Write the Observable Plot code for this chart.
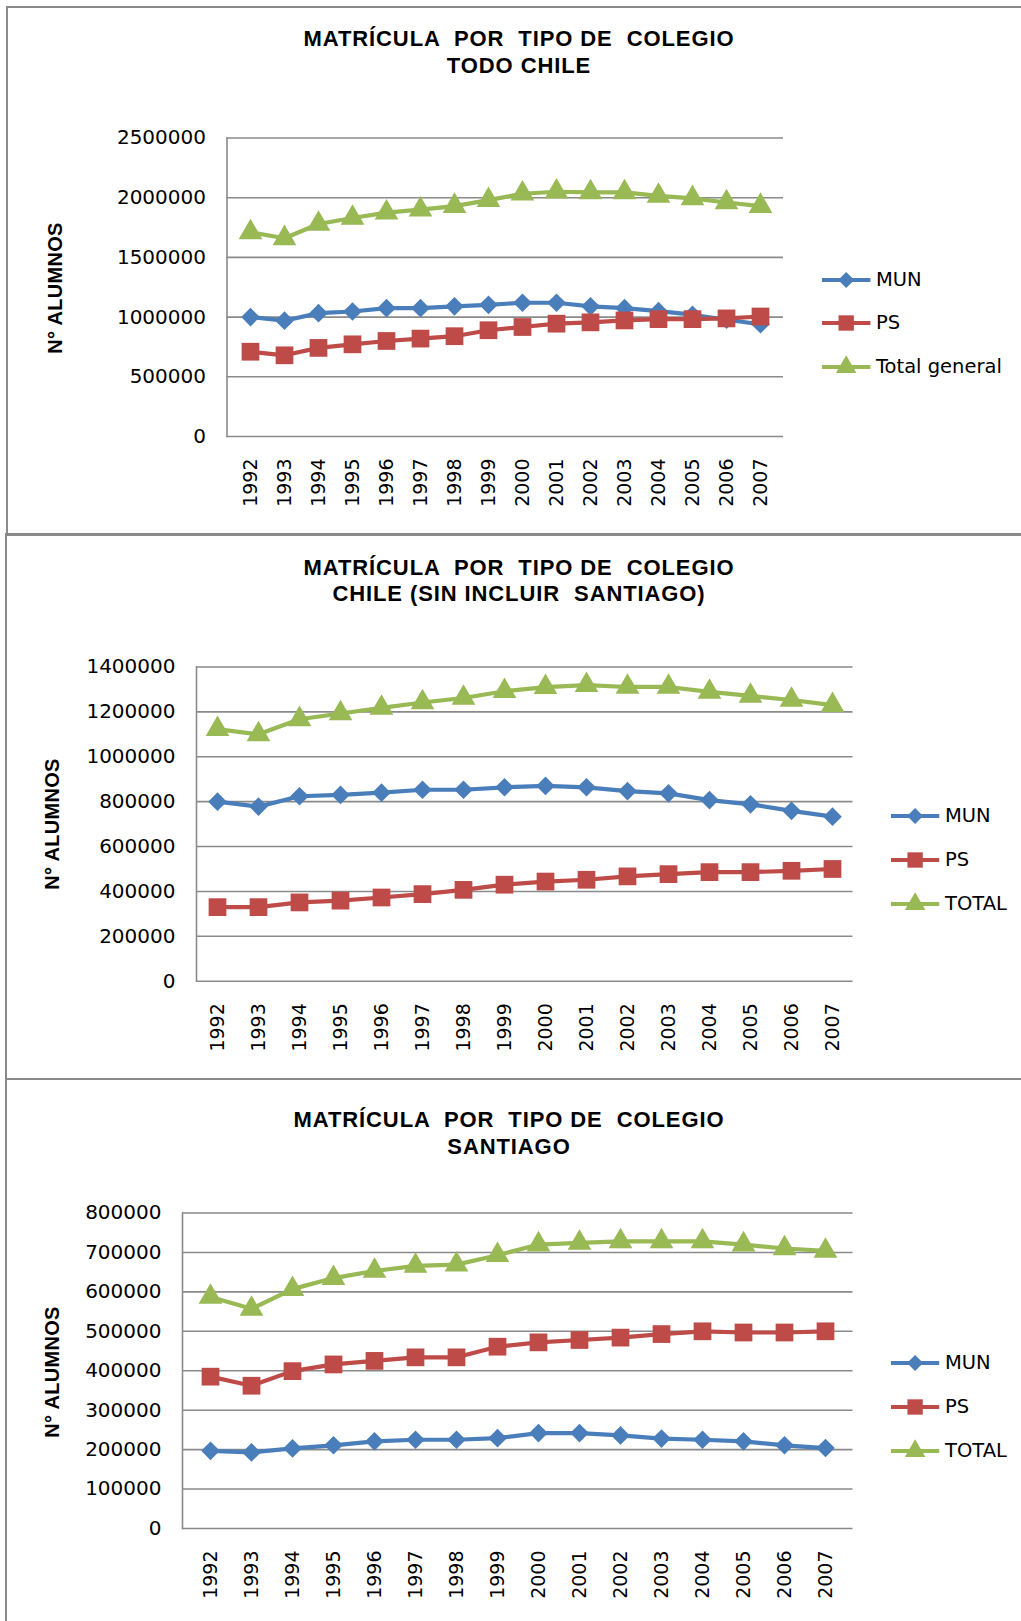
<!DOCTYPE html>
<html><head><meta charset="utf-8">
<script src="https://cdn.jsdelivr.net/npm/d3@7"></script>
<script src="https://cdn.jsdelivr.net/npm/@observablehq/plot@0.6"></script>
<style>
html,body{margin:0;padding:0;background:#fff;}
#page{position:relative;width:1021px;height:1621px;overflow:hidden;background:#fff;}
.panel{position:absolute;border:2px solid #8a8a8a;border-right:none;box-sizing:border-box;}
.title{position:absolute;font-family:"Liberation Sans",Arial,sans-serif;font-weight:bold;font-size:22px;letter-spacing:0.9px;text-align:center;line-height:26.5px;white-space:pre;color:#000;transform:translateX(-50%);}
.ylab{position:absolute;font-family:"Liberation Sans",Arial,sans-serif;font-weight:bold;font-size:20px;letter-spacing:0.3px;white-space:nowrap;color:#000;transform:translate(-50%,-50%) rotate(-90deg);}
.leg{position:absolute;font-family:"DejaVu Sans",sans-serif;font-size:19.5px;color:#000;white-space:nowrap;}
.plotwrap{position:absolute;left:0;}
</style></head>
<body><div id="page"></div>
<script>
// ---------- DATA ----------
const years = ["1992","1993","1994","1995","1996","1997","1998","1999","2000","2001","2002","2003","2004","2005","2006","2007"];

// Panel 1: TODO CHILE
const chileMun   = [1000000, 970000, 1033000, 1047000, 1075000, 1075000, 1090000, 1103000, 1120000, 1120000, 1090000, 1075000, 1050000, 1020000, 978000, 940000];
const chilePs    = [710000, 680000, 742000, 772000, 800000, 820000, 840000, 890000, 917000, 945000, 956000, 972000, 983000, 983000, 989000, 1005000];
const chileTotal = [1710000, 1660000, 1780000, 1830000, 1875000, 1900000, 1930000, 1980000, 2033000, 2050000, 2045000, 2045000, 2015000, 1995000, 1960000, 1930000];

// Panel 2: CHILE (SIN INCLUIR SANTIAGO)
const regMun   = [800000, 778000, 824000, 830000, 840000, 853000, 853000, 864000, 870000, 864000, 847000, 837000, 807000, 788000, 759000, 733000];
const regPs    = [330000, 330000, 351000, 359000, 373000, 388000, 407000, 430000, 444000, 452000, 467000, 477000, 486000, 486000, 492000, 500000];
const regTotal = [1123000, 1100000, 1167000, 1193000, 1218000, 1242000, 1262000, 1292000, 1310000, 1319000, 1311000, 1311000, 1289000, 1271000, 1253000, 1230000];

// Panel 3: SANTIAGO
const stgMun   = [197000, 193000, 203000, 211000, 221000, 225000, 225000, 229000, 242000, 242000, 236000, 228000, 225000, 221000, 211000, 204000];
const stgPs    = [385000, 362000, 399000, 416000, 425000, 434000, 434000, 461000, 472000, 478000, 484000, 493000, 500000, 497000, 497000, 500000];
const stgTotal = [587000, 557000, 607000, 635000, 653000, 666000, 669000, 693000, 720000, 724000, 728000, 728000, 728000, 720000, 710000, 704000];

const ticks1 = [0, 500000, 1000000, 1500000, 2000000, 2500000];
const ticks2 = [0, 200000, 400000, 600000, 800000, 1000000, 1200000, 1400000];
const ticks3 = [0, 100000, 200000, 300000, 400000, 500000, 600000, 700000, 800000];

const titles1 = ["MATRÍCULA  POR  TIPO DE  COLEGIO", "TODO CHILE"];
const titles2 = ["MATRÍCULA  POR  TIPO DE  COLEGIO", "CHILE (SIN INCLUIR  SANTIAGO)"];
const titles3 = ["MATRÍCULA  POR  TIPO DE  COLEGIO", "SANTIAGO"];
const names1 = ["MUN", "PS", "Total general"];
const names23 = ["MUN", "PS", "TOTAL"];
const yTitle = "N° ALUMNOS";

// ---------- STYLE ----------
const colors = ["#4A7EBB", "#BE4B48", "#98B954"];
const symbols = ["diamond2", "square", "triangle"];
const radii = [8.4, 10, 8.8];
const gridColor = "#8a8a8a";

const panels = [
  {values: [chileMun, chilePs, chileTotal], ticks: ticks1, titles: titles1, names: names1,
   box: {left: 6, top: 6, height: 530},
   svgTop: 0, svgH: 534, mt: 137.5, mb: 98, ml: 226.5, mr: 238,
   titleX: 519, titleTop: 26.3, ylabX: 55, ylabY: 287.5,
   legLine: [821.6, 870], legText: 876, legY: [279.6, 323, 366.7]},
  {values: [regMun, regPs, regTotal], ticks: ticks2, titles: titles2, names: names23,
   box: {left: 5, top: 533, height: 547},
   svgTop: 534, svgH: 544, mt: 132.5, mb: 97.3, ml: 196, mr: 168.5,
   titleX: 519, titleTop: 554.6, ylabX: 52, ylabY: 824,
   legLine: [890.6, 938.8], legText: 945, legY: [816, 859.7, 903.5]},
  {values: [stgMun, stgPs, stgTotal], ticks: ticks3, titles: titles3, names: names23,
   box: {left: 5, top: 1078, height: 600},
   svgTop: 1080, svgH: 541, mt: 132.5, mb: 93, ml: 182, mr: 168.5,
   titleX: 509, titleTop: 1107, ylabX: 52, ylabY: 1372,
   legLine: [890.6, 938.8], legText: 945, legY: [1363.3, 1406.5, 1451]}
];

const page = document.getElementById("page");
const fmt = d3.format("d");

for (const p of panels) {
  const box = document.createElement("div");
  box.className = "panel";
  box.style.left = p.box.left + "px";
  box.style.top = p.box.top + "px";
  box.style.width = (1100) + "px";
  box.style.height = p.box.height + "px";
  page.appendChild(box);

  const seriesMarks = p.values.flatMap((vals, k) => {
    const rows = years.map((yr, i) => ({year: yr, v: vals[i]}));
    return [
      Plot.line(rows, {x: "year", y: "v", stroke: colors[k], strokeWidth: 4.2}),
      Plot.dot(rows, {x: "year", y: "v", symbol: symbols[k], r: radii[k], fill: colors[k], stroke: "none"})
    ];
  });

  const chart = Plot.plot({
    width: 1021,
    height: p.svgH,
    marginTop: p.mt, marginBottom: p.mb, marginLeft: p.ml, marginRight: p.mr,
    style: {background: "transparent", overflow: "visible", fontFamily: "DejaVu Sans"},
    x: {type: "point", domain: years, padding: 0.5, axis: null},
    y: {domain: [0, p.ticks[p.ticks.length - 1]], axis: null},
    marks: [
      Plot.gridY(p.ticks, {stroke: gridColor, strokeOpacity: 1, strokeWidth: 1.6}),
      Plot.frame({anchor: "left", stroke: gridColor, strokeWidth: 1.6}),
      Plot.axisY(p.ticks, {tickSize: 0, tickPadding: 21, tickFormat: fmt, fontSize: 20, fontFamily: "DejaVu Sans", fill: "#000", label: null}),
      Plot.axisX({tickSize: 0, tickPadding: 22, tickRotate: -90, fontSize: 19, fontFamily: "DejaVu Sans", fill: "#000", label: null}),
      ...seriesMarks
    ]
  });
  const wrap = document.createElement("div");
  wrap.className = "plotwrap";
  wrap.style.top = p.svgTop + "px";
  wrap.appendChild(chart);
  page.appendChild(wrap);

  const t = document.createElement("div");
  t.className = "title";
  t.style.left = p.titleX + "px";
  t.style.top = p.titleTop + "px";
  t.textContent = p.titles.join("\n");
  page.appendChild(t);

  const yl = document.createElement("div");
  yl.className = "ylab";
  yl.style.left = p.ylabX + "px";
  yl.style.top = p.ylabY + "px";
  yl.textContent = yTitle;
  page.appendChild(yl);

  p.names.forEach((name, k) => {
    const x0 = p.legLine[0], x1 = p.legLine[1];
    const svg = d3.create("svg")
      .attr("width", x1 - x0 + 4).attr("height", 24)
      .style("position", "absolute")
      .style("left", (x0 - 2) + "px")
      .style("top", (p.legY[k] - 12) + "px")
      .style("overflow", "visible");
    svg.append("line").attr("x1", 2).attr("x2", x1 - x0 + 2).attr("y1", 12).attr("y2", 12)
      .attr("stroke", colors[k]).attr("stroke-width", 4);
    const symMap = {diamond2: d3.symbolDiamond2, square: d3.symbolSquare, triangle: d3.symbolTriangle};
    svg.append("path")
      .attr("transform", `translate(${(x1 - x0) / 2 + 2},12)`)
      .attr("d", d3.symbol(symMap[symbols[k]], Math.PI * radii[k] * radii[k] * 0.75)())
      .attr("fill", colors[k]);
    page.appendChild(svg.node());
    const tx = document.createElement("div");
    tx.className = "leg";
    tx.style.left = p.legText + "px";
    tx.style.top = (p.legY[k] - 12) + "px";
    tx.style.lineHeight = "24px";
    tx.textContent = name;
    page.appendChild(tx);
  });
}
</script>
</body></html>
